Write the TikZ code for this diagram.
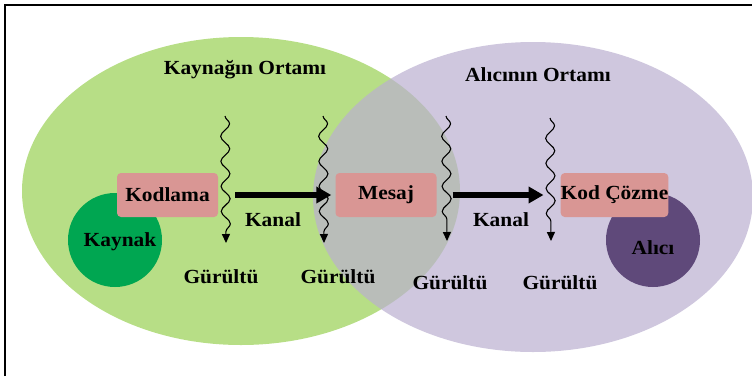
\documentclass[tikz,border=0pt]{standalone}
\usepackage{fontspec}
\setmainfont{Liberation Serif}[FakeStretch=1.07]
\usetikzlibrary{decorations.pathmorphing,arrows.meta}
\definecolor{ortamyesil}{RGB}{183,222,134}
\definecolor{ortammor}{RGB}{186,175,208}
\definecolor{kaynakyesil}{RGB}{0,166,81}
\definecolor{alicimor}{RGB}{95,73,122}
\definecolor{kutupembe}{RGB}{217,150,148}

\begin{document}
\begin{tikzpicture}[x=1pt,y=-1pt,
		every node/.style={font=\fontsize{20}{24}\selectfont\bfseries,inner sep=0},
		kutu/.style={fill=kutupembe,rounded corners=4pt,minimum width=101pt,minimum height=44pt},
		gurultu/.style={line width=1.1pt,decorate,
			decoration={snake,amplitude=4.5pt,segment length=25pt,post length=10pt},
			-{Triangle[width=8pt,length=9pt]}},
		kalinok/.style={line width=6pt,-{Triangle[width=16pt,length=15pt]}}]
		\useasboundingbox (0,0) rectangle (752,376);
		\draw[line width=1.6pt] (5,376) -- (5,5) -- (752,5);
		% ortamlar
		\fill[ortamyesil] (241,191) ellipse (219 and 154);
		\fill[ortammor,opacity=0.7] (533,197) ellipse (220 and 155);
		\fill[kaynakyesil] (115,240) circle (47);
		\fill[alicimor] (653,240) circle (47);
		\node (kaynakort) at (245,70) {Kaynağın Ortamı};
		\node (aliciort) at (538,75) {Alıcının Ortamı};
		\node (kaynak) at (120,242) {Kaynak};
		\node (alici) at (653,248) {Alıcı};
		% kutular
		\node[kutu] (kodlama) at (167.5,195) {Kodlama};
		\node[kutu] (mesaj) at (386,195) {Mesaj};
		\node[kutu] (cozme) at (614.5,195) {\raisebox{2pt}{Kod Çözme}};
		\draw[kalinok] ([xshift=17pt]kodlama.east) -- ([xshift=-4pt]mesaj.west);
		\draw[kalinok] ([xshift=16pt]mesaj.east) -- ([xshift=-17pt]cozme.west);
		\node (kanal1) at (273,220) {Kanal};
		\node (kanal2) at (501,220) {Kanal};
		% gurultu
		\coordinate (g1a) at (225,116); \coordinate (g1b) at (226,243);
		\coordinate (g2a) at (323,116); \coordinate (g2b) at (324,243);
		\coordinate (g3a) at (446,116); \coordinate (g3b) at (447,241);
		\coordinate (g4a) at (550,118); \coordinate (g4b) at (551,241);
		\draw[gurultu] (g1a) -- (g1b);
		\draw[gurultu] (g2a) -- (g2b);
		\draw[gurultu] (g3a) -- (g3b);
		\draw[gurultu] (g4a) -- (g4b);
		\node (gur1) at (221,277) {Gürültü};
		\node (gur2) at (338,277) {Gürültü};
		\node (gur3) at (450,283) {Gürültü};
		\node (gur4) at (560,283) {Gürültü};
	\end{tikzpicture}
\end{document}
